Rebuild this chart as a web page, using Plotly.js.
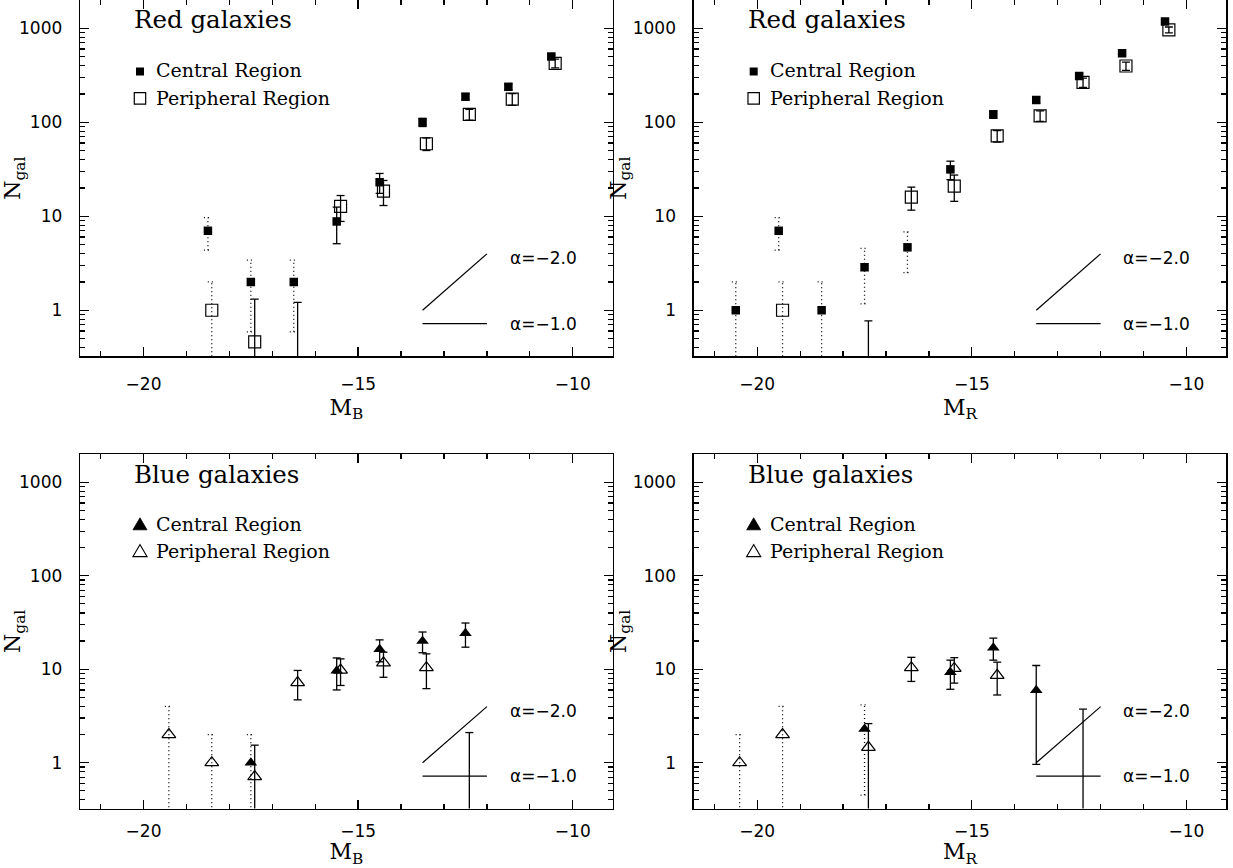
<!DOCTYPE html>
<html><head><meta charset="utf-8">
<script src="https://cdn.plot.ly/plotly-3.0.1.min.js"></script>
<style>html,body{margin:0;padding:0;background:#fff}#chart{width:1233px;height:868px}</style>
</head><body><div id="chart"></div>
<script>
// ---------- DATA ----------
// Absolute-magnitude bin centres (same for all panels)
const magBins = [-20.5, -19.5, -18.5, -17.5, -16.5, -15.5, -14.5, -13.5, -12.5, -11.5, -10.5];

// Red galaxies, M_B
const redB_central       = [null, null, 7,    2,    2,    8.8,  23,  100, 187, 238, 499];
const redB_centralErr    = [null, null, 2.65, 1.41, 1.41, 3.7,  5.5, 10,  14,  16,  22];
const redB_centralRaw    = [0, 0, 1, 1, 1, 0, 0, 0, 0, 0, 0];   // 1 = raw Poisson error (dotted)
const redB_periph        = [null, null, 1,    0.46, 0,    12.7, 18.5, 59, 121, 176, 423];
const redB_periphErr     = [null, null, 1,    0.85, 1.21, 3.9,  5.5,  9,  16,  25,  45];
const redB_periphRaw     = [0, 0, 1, 0, 0, 0, 0, 0, 0, 0, 0];

// Red galaxies, M_R
const redR_central       = [1, 7,    1, 2.86, 4.67, 31.5, 121, 172, 310, 541, 1178];
const redR_centralErr    = [1, 2.65, 1, 1.69, 2.16, 7,    11,  13,  18,  23,  34];
const redR_centralRaw    = [1, 1, 1, 1, 1, 0, 0, 0, 0, 0, 0];
const redR_periph        = [null, 1, null, 0,    16,  20.9, 71.5, 117, 265, 396, 960];
const redR_periphErr     = [null, 1, null, 0.77, 4.4, 6.5,  10,   15,  30,  40,  70];
const redR_periphRaw     = [0, 1, 0, 0, 0, 0, 0, 0, 0, 0, 0];

// Blue galaxies, M_B
const blueB_central      = [null, null, null, 1, null, 9.6, 16.3, 20, 24.2, null, null];
const blueB_centralErr   = [null, null, null, 1, null, 3.6, 4.3,  5,  7,    null, null];
const blueB_centralRaw   = [0, 0, 0, 1, 0, 0, 0, 0, 0, 0, 0];
const blueB_periph       = [null, 2, 1, 0.71, 7.2, 9.8, 11.7, 10.4, 0,   null, null];
const blueB_periphErr    = [null, 2, 1, 0.83, 2.5, 3.1, 3.5,  4.2,  2.1, null, null];
const blueB_periphRaw    = [0, 1, 1, 0, 0, 0, 0, 0, 0, 0, 0];

// Blue galaxies, M_R
const blueR_central      = [null, null, null, 2.3,  null, 9.3, 17,  5.96, null, null, null];
const blueR_centralErr   = [null, null, null, 1.85, null, 3.2, 4.5, 5.0,  null, null, null];
const blueR_centralRaw   = [0, 0, 0, 1, 0, 0, 0, 0, 0, 0, 0];
const blueR_periph       = [1, 2, null, 1.46, 10.4, 10.2, 8.6, null, 0,    null, null];
const blueR_periphErr    = [1, 2, null, 1.16, 3,    3.1,  3.3, null, 3.74, null, null];
const blueR_periphRaw    = [1, 1, 0, 0, 0, 0, 0, 0, 0, 0, 0];

// Reference luminosity-function slopes
const alphaValues = [-2.0, -1.0];
const alphaStartN = [1.0, 0.72];        // N at the bright end of the guide line
const alphaMagRange = [-13.5, -12.0];   // magnitude span of the guide lines

// Tick / label text
const panelTitles = ['Red galaxies', 'Red galaxies', 'Blue galaxies', 'Blue galaxies'];
const legendLabels = ['Central Region', 'Peripheral Region'];
const xTitles = ['M<sub>B</sub>', 'M<sub>R</sub>', 'M<sub>B</sub>', 'M<sub>R</sub>'];
const yTitle = 'N<sub>gal</sub>';

// ---------- LAYOUT GEOMETRY ----------
const W = 1233, H = 868;
const xRange = [-21.48, -9.07];
const yRange = [-0.49, 3.3];
const xDomL = [80 / W, 612.7 / W], xDomR = [693.7 / W, 1226.4 / W];
const yDomT = [1 - 356.3 / H, 1], yDomB = [1 - 808.5 / H, 1 - 454.2 / H];
const pxPerMag = (612.7 - 80) / (xRange[1] - xRange[0]);
const capHalf = 4 / pxPerMag;
const periphOffset = 0.09;
const FLOOR = 1e-3;

const SERIF = 'DejaVu Serif, serif';
const SANS = 'DejaVu Sans, sans-serif';

function errSegs(xs, ys, es, raw, dotted) {
  const X = [], Y = [];
  for (let i = 0; i < xs.length; i++) {
    if (ys[i] == null || es[i] == null) continue;
    if ((raw[i] === 1) !== dotted) continue;
    const x = xs[i], hi = ys[i] + es[i], loRaw = ys[i] - es[i];
    const lo = loRaw > 0 ? loRaw : FLOOR;
    X.push(x, x, null); Y.push(lo, hi, null);
    X.push(x - capHalf, x + capHalf, null); Y.push(hi, hi, null);
    if (loRaw > 0) { X.push(x - capHalf, x + capHalf, null); Y.push(lo, lo, null); }
  }
  return {X, Y};
}

const panels = [
  {c: redB_central, ce: redB_centralErr, cr: redB_centralRaw, p: redB_periph, pe: redB_periphErr, pr: redB_periphRaw, sym: 'square'},
  {c: redR_central, ce: redR_centralErr, cr: redR_centralRaw, p: redR_periph, pe: redR_periphErr, pr: redR_periphRaw, sym: 'square'},
  {c: blueB_central, ce: blueB_centralErr, cr: blueB_centralRaw, p: blueB_periph, pe: blueB_periphErr, pr: blueB_periphRaw, sym: 'triangle'},
  {c: blueR_central, ce: blueR_centralErr, cr: blueR_centralRaw, p: blueR_periph, pe: blueR_periphErr, pr: blueR_periphRaw, sym: 'triangle'}
];

const traces = [];
const layout = {
  width: W, height: H, margin: {l: 0, r: 0, t: 0, b: 0},
  paper_bgcolor: '#fff', plot_bgcolor: '#fff', showlegend: false,
  annotations: [], shapes: []
};

panels.forEach((P, k) => {
  const sfx = k === 0 ? '' : String(k + 1);
  const xa = 'x' + sfx, ya = 'y' + sfx;
  const xPer = magBins.map(m => m + periphOffset);

  // error bars
  [[magBins, P.c, P.ce, P.cr], [xPer, P.p, P.pe, P.pr]].forEach(([xs, ys, es, raw]) => {
    [false, true].forEach(dotted => {
      const s = errSegs(xs, ys, es, raw, dotted);
      if (!s.X.length) return;
      traces.push({x: s.X, y: s.Y, xaxis: xa, yaxis: ya, mode: 'lines', hoverinfo: 'skip',
        line: {color: '#000', width: 1.3, dash: dotted ? '1px,3px' : 'solid'}});
    });
  });

  // markers
  const isSq = P.sym === 'square';
  traces.push({x: magBins, y: P.c, xaxis: xa, yaxis: ya, mode: 'markers', name: legendLabels[0],
    marker: {symbol: isSq ? 'square' : 'triangle-up', size: isSq ? 8.5 : 11, color: '#000'}});
  traces.push({x: xPer, y: P.p, xaxis: xa, yaxis: ya, mode: 'markers', name: legendLabels[1],
    marker: {symbol: isSq ? 'square-open' : 'triangle-up-open', size: 12, color: '#000', line: {width: 1.2, color: '#000'}}});

  // slope guides
  alphaValues.forEach((a, j) => {
    const yy = alphaMagRange.map(m => alphaStartN[j] * Math.pow(10, -0.4 * (a + 1) * (m - alphaMagRange[0])));
    traces.push({x: alphaMagRange, y: yy, xaxis: xa, yaxis: ya, mode: 'lines', hoverinfo: 'skip',
      line: {color: '#000', width: 1.2}});
    const labY = j === 0 ? Math.log10(alphaStartN[j] * 3.57) : Math.log10(alphaStartN[j]);
    layout.annotations.push({xref: xa, yref: ya, x: -11.52, y: labY, xanchor: 'left', yanchor: 'middle',
      showarrow: false, text: 'α=−' + Math.abs(a).toFixed(1), font: {family: SANS, size: 17, color: '#000'}});
  });

  // axes
  const left = k % 2 === 0, top = k < 2;
  layout['xaxis' + sfx] = {
    domain: left ? xDomL : xDomR, anchor: ya, range: xRange, tick0: -20, dtick: 5,
    ticks: 'inside', ticklen: 9, tickwidth: 1.3, tickcolor: '#000', mirror: 'ticks',
    showline: true, linewidth: 1.3, linecolor: '#000', showgrid: false, zeroline: false,
    minor: {dtick: 1, ticks: 'inside', ticklen: 5, tickwidth: 1.2, tickcolor: '#000', showgrid: false},
    tickfont: {family: SANS, size: 17, color: '#000'}, ticklabelstandoff: top ? 12 : 7,
    title: {text: xTitles[k], font: {family: SERIF, size: 22, color: '#000'}, standoff: top ? 6 : 2}
  };
  layout['yaxis' + sfx] = {
    domain: top ? yDomT : yDomB, anchor: xa, type: 'log', range: yRange, dtick: 1,
    ticks: 'inside', ticklen: 9, tickwidth: 1.3, tickcolor: '#000', mirror: 'ticks',
    showline: true, linewidth: 1.3, linecolor: '#000', showgrid: false, zeroline: false,
    minor: {dtick: 'D1', ticks: 'inside', ticklen: 5, tickwidth: 1.2, tickcolor: '#000', showgrid: false},
    tickfont: {family: SANS, size: 17, color: '#000'}, ticklabelstandoff: 13,
    title: {text: yTitle, font: {family: SERIF, size: 22, color: '#000'}, standoff: 0}
  };

  // panel title + legend
  const xd = xa + ' domain', yd = ya + ' domain';
  layout.annotations.push({xref: xd, yref: yd, x: 0.0976, y: 0.944, xanchor: 'left', yanchor: 'middle',
    showarrow: false, text: panelTitles[k], font: {family: SERIF, size: 24.5, color: '#000'}});
  const legY = isSq ? [0.8035, 0.725] : [0.8035, 0.728];
  legendLabels.forEach((t, j) => {
    layout.annotations.push({xref: xd, yref: yd, x: 0.139, y: legY[j], xanchor: 'left', yanchor: 'middle',
      showarrow: false, text: t, font: {family: SERIF, size: 19, color: '#000'}});
  });
  const mx = 0.1126;
  if (isSq) {
    layout.shapes.push({type: 'rect', xref: xd, yref: yd, xsizemode: 'pixel', ysizemode: 'pixel',
      xanchor: mx, yanchor: 0.7993, x0: -4, x1: 4, y0: -4, y1: 4, fillcolor: '#000', line: {width: 0}});
    layout.shapes.push({type: 'rect', xref: xd, yref: yd, xsizemode: 'pixel', ysizemode: 'pixel',
      xanchor: mx, yanchor: 0.724, x0: -5.7, x1: 5.7, y0: -5.7, y1: 5.7, fillcolor: 'rgba(0,0,0,0)', line: {width: 1.2, color: '#000'}});
  } else {
    layout.shapes.push({type: 'path', xref: xd, yref: yd, xsizemode: 'pixel', ysizemode: 'pixel',
      xanchor: mx, yanchor: 0.8035, path: 'M-7,-6L7,-6L0,6Z', fillcolor: '#000', line: {width: 0.8, color: '#000'}});
    layout.shapes.push({type: 'path', xref: xd, yref: yd, xsizemode: 'pixel', ysizemode: 'pixel',
      xanchor: mx, yanchor: 0.728, path: 'M-7,-6L7,-6L0,6Z', fillcolor: 'rgba(0,0,0,0)', line: {width: 1.2, color: '#000'}});
  }
});

Plotly.newPlot('chart', traces, layout, {displayModeBar: false, staticPlot: true});
</script>
</body></html>
